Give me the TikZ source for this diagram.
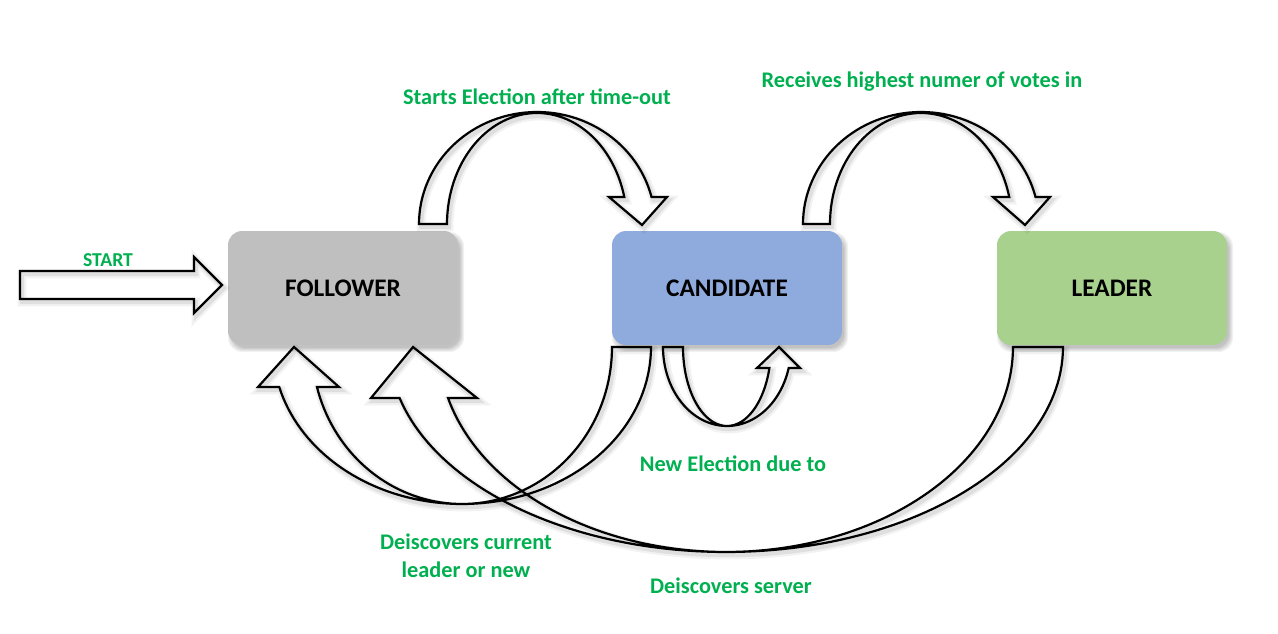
\documentclass[tikz,border=0pt]{standalone}
\usepackage{fontspec}
\setmainfont{Carlito}
\definecolor{lblgreen}{HTML}{00B050}
\definecolor{fgray}{HTML}{BFBFBF}
\definecolor{cblue}{HTML}{8FAADC}
\definecolor{lgreen}{HTML}{A9D18E}
\tikzset{
  statebox/.style={rounded corners=0.28cm, minimum width=4.6cm, minimum height=2.28cm, inner sep=0pt,
    font=\fontsize{14.4}{17}\selectfont\bfseries, text=black},
  lbl/.style={text=lblgreen, font=\fontsize{12.7}{15.9}\selectfont\bfseries, align=center, inner sep=0pt},
  blockarrow/.style={draw=black, line width=1.25pt, line join=miter},
  arrowshadowA/.style={draw=black, opacity=0.05, line width=5pt, shift={(2,3)}},
  arrowshadowB/.style={draw=black, opacity=0.08, line width=2.5pt, shift={(2,3)}},
}
% block arrow outlines (pixel coordinates)
\newcommand\pathStart{(20,271) -- (194,271) -- (194,257) -- (222,285) -- (194,313) -- (194,299) -- (20,299) -- cycle}
\newcommand\pathFC{(419,224) -- plot[domain=180:346.1,samples=60] ({537+118*cos(\x)},{224+112*sin(\x)}) -- (667,197) -- (642,225) -- (609,197) -- plot[domain=345.9:180,samples=60] ({537+90*cos(\x)},{224+111*sin(\x)}) -- cycle}
\newcommand\pathCL{(803,224) -- plot[domain=180:346.1,samples=60] ({921+118*cos(\x)},{224+112*sin(\x)}) -- (1050,197) -- (1025,225) -- (993,197) -- plot[domain=345.9:180,samples=60] ({921+91*cos(\x)},{224+111*sin(\x)}) -- cycle}
\newcommand\pathCF{(612,347) -- (651,347) -- plot[domain=0:165.24,samples=80] ({462+189*cos(\x)},{347+157*sin(\x)}) -- (258,387) -- (294,347) -- (339,387) -- plot[domain=165.24:0,samples=80] ({462+150*cos(\x)},{347+157*sin(\x)}) -- cycle}
\newcommand\pathLF{(1013,347) -- (1063,347) -- plot[domain=0:165.6,samples=100] ({726+337*cos(\x)},{347+205*sin(\x)}) -- (371,398) -- (413,347) -- (477,398) -- plot[domain=165.6:0,samples=100] ({726+287*cos(\x)},{347+205*sin(\x)}) -- cycle}
\newcommand\pathCC{(683,347) -- (663,347) -- plot[domain=180:15.4,samples=60] ({727+64*cos(\x)},{347+79*sin(\x)}) -- (800,368) -- (779,347) -- (757,368) -- plot[domain=15.4:180,samples=60] ({727+44*cos(\x)},{347+79*sin(\x)}) -- cycle}
\newcommand\boxshadow[4]{%
  \foreach \s in {1,...,5}{%
    \fill[black, opacity=0.05, rounded corners=0.28cm]
      ({#1+2-\s+3},{#2+3-\s+3}) rectangle ({#3+2+\s-1},{#4+3+\s-1});
  }%
}
\begin{document}
\begin{tikzpicture}[x=0.02cm, y=-0.02cm]
\fill[white] (0,0) rectangle (1278,634);
\useasboundingbox (0,0) rectangle (1278,634);

% box shadows
\boxshadow{228}{231}{458}{345}
\boxshadow{612}{231}{842}{345}
\boxshadow{997}{231}{1227}{345}

% state boxes
\node[statebox, fill=fgray] (F) at (343,288) {FOLLOWER};
\node[statebox, fill=cblue] (C) at (727,288) {CANDIDATE};
\node[statebox, fill=lgreen] (L) at (1112,288) {LEADER};

% arrow shadows
\foreach \p in {\pathStart,\pathFC,\pathCL,\pathCF,\pathLF,\pathCC}{
  \draw[arrowshadowA] \p;
  \draw[arrowshadowB] \p;
}

% block arrows
\draw[blockarrow] \pathStart;
\draw[blockarrow] \pathFC;
\draw[blockarrow] \pathCL;
\draw[blockarrow] \pathCF;
\draw[blockarrow] \pathLF;
\draw[blockarrow] \pathCC;

% labels
\node[lbl, font=\fontsize{11.2}{13}\selectfont\bfseries] (lstart) at (108,260) {START};
\node[lbl] (lfc) at (537,97) {Starts Election after time-out};
\node[lbl] (lcl) at (922,82) {Receives highest numer of votes in};
\node[lbl] (lcc) at (733,464) {New Election due to};
\node[lbl] (lcf) at (466,556) {Deiscovers current\\leader or new};
\node[lbl] (llf) at (731,586) {Deiscovers server};
\end{tikzpicture}
\end{document}
